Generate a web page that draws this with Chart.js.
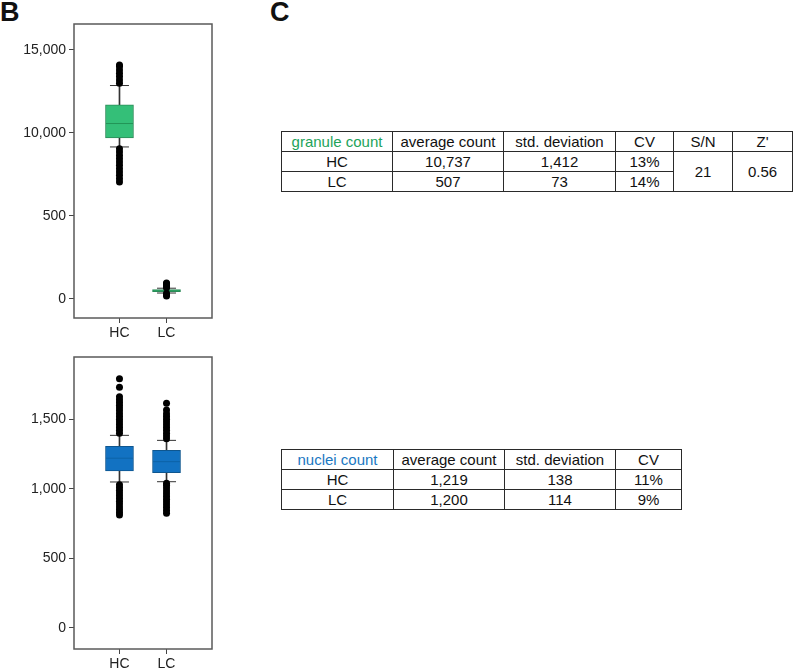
<!DOCTYPE html>
<html>
<head>
<meta charset="utf-8">
<script src="https://cdn.jsdelivr.net/npm/chart.js@4.4.1/dist/chart.umd.min.js"></script>
<style>
  html, body { margin:0; padding:0; background:#fff; }
  body { width:800px; height:672px; position:relative; overflow:hidden; font-family:"Liberation Sans", Arial, sans-serif; }
  .panel { position:absolute; font-weight:bold; font-size:27px; color:#111; line-height:1; }
  .cv { position:absolute; }
  table { position:absolute; border-collapse:collapse; table-layout:fixed; font-size:15px; color:#111; }
  td { border:1.5px solid #2a2a2a; text-align:center; padding:0; height:19px; line-height:19px; white-space:nowrap; }
</style>
</head>
<body>
<div class="panel" style="left:0;top:-1px;">B</div>
<div class="panel" style="left:270px;top:-1px;">C</div>
<div class="cv" style="left:0;top:0;width:230px;height:345px;"><canvas id="c1"></canvas></div>
<div class="cv" style="left:0;top:340px;width:230px;height:332px;"><canvas id="c2"></canvas></div>

<table id="t1" style="left:281px;top:131px;width:511px;">
  <colgroup><col style="width:111px"><col style="width:111px"><col style="width:112px"><col style="width:58px"><col style="width:59px"><col style="width:60px"></colgroup>
</table>
<table id="t2" style="left:281px;top:449px;width:400px;">
  <colgroup><col style="width:112px"><col style="width:111px"><col style="width:111px"><col style="width:66px"></colgroup>
</table>

<script>
// ---------- data ----------
const categories = ['HC', 'LC'];

// granule count (top box plot)
const granuleWhiskerLow  = [9160, 360];
const granuleQ1          = [9700, 440];
const granuleMedian      = [10570, 500];
const granuleQ3          = [11690, 560];
const granuleWhiskerHigh = [12860, 650];
const granuleOutliersHC  = [7050, 7250, 7450, 7650, 7850, 8050, 8250, 8450, 8650, 8850, 9050, 13000, 13200, 13400, 13600, 13800, 14000, 14100];
const granuleOutliersLC  = [180, 260, 330, 680, 760, 840, 920, 964];
const granuleTicks       = [0, 5000, 10000, 15000];
const granuleTickLabels  = ['0', '500', '10,000', '15,000'];

// nuclei count (bottom box plot)
const nucleiWhiskerLow  = [1049, 1051];
const nucleiQ1          = [1128, 1116];
const nucleiMedian      = [1220, 1195];
const nucleiQ3          = [1305, 1276];
const nucleiWhiskerHigh = [1384, 1348];
const nucleiOutliersHC  = [812, 830, 850, 870, 890, 910, 930, 950, 970, 990, 1010, 1030,
                           1400, 1420, 1440, 1460, 1480, 1500, 1520, 1540, 1560, 1580, 1600, 1620, 1640, 1662, 1729, 1791];
const nucleiOutliersLC  = [824, 845, 865, 885, 905, 925, 945, 965, 985, 1005, 1025, 1040,
                           1360, 1380, 1400, 1420, 1440, 1460, 1480, 1500, 1520, 1540, 1566, 1614];
const nucleiTicks       = [0, 500, 1000, 1500];
const nucleiTickLabels  = ['0', '500', '1,000', '1,500'];

// tables
const granuleHeader = ['granule count', 'average count', 'std. deviation', 'CV', 'S/N', "Z'"];
const granuleAvg    = ['10,737', '507'];
const granuleSD     = ['1,412', '73'];
const granuleCV     = ['13%', '14%'];
const granuleSN     = '21';
const granuleZ      = '0.56';
const nucleiHeader  = ['nuclei count', 'average count', 'std. deviation', 'CV'];
const nucleiAvg     = ['1,219', '1,200'];
const nucleiSD      = ['138', '114'];
const nucleiCV      = ['11%', '9%'];

// ---------- tables ----------
function cell(tr, text, opts) {
  const td = document.createElement('td');
  td.textContent = text;
  if (opts && opts.color) td.style.color = opts.color;
  if (opts && opts.rowSpan) td.rowSpan = opts.rowSpan;
  tr.appendChild(td);
}
(function(){
  const t1 = document.getElementById('t1');
  let tr = document.createElement('tr');
  granuleHeader.forEach((h, i) => cell(tr, h, i === 0 ? {color:'#22a35a'} : null));
  t1.appendChild(tr);
  categories.forEach((c, i) => {
    tr = document.createElement('tr');
    cell(tr, c); cell(tr, granuleAvg[i]); cell(tr, granuleSD[i]); cell(tr, granuleCV[i]);
    if (i === 0) { cell(tr, granuleSN, {rowSpan:2}); cell(tr, granuleZ, {rowSpan:2}); }
    t1.appendChild(tr);
  });
  const t2 = document.getElementById('t2');
  tr = document.createElement('tr');
  nucleiHeader.forEach((h, i) => cell(tr, h, i === 0 ? {color:'#1a78c2'} : null));
  t2.appendChild(tr);
  categories.forEach((c, i) => {
    tr = document.createElement('tr');
    cell(tr, c); cell(tr, nucleiAvg[i]); cell(tr, nucleiSD[i]); cell(tr, nucleiCV[i]);
    t2.appendChild(tr);
  });
})();

// ---------- charts ----------
const framePlugin = {
  id: 'frame',
  afterDraw(chart) {
    const a = chart.chartArea, ctx = chart.ctx;
    ctx.save();
    ctx.strokeStyle = '#5a5a5a';
    ctx.lineWidth = 1.5;
    ctx.strokeRect(a.left, a.top, a.right - a.left, a.bottom - a.top);
    ctx.restore();
  }
};

function boxChart(id, cfg) {
  const xs = categories.map((c, i) => i + 1);
  const pts = arr => arr.map((v, i) => ({x: xs[i], y: v}));
  const outl = [];
  cfg.outliers.forEach((list, i) => list.forEach(v => outl.push({x: xs[i], y: v})));
  return new Chart(document.getElementById(id), {
    type: 'bar',
    data: {
      datasets: [
        { type:'bar', data: xs.map((x, i) => ({x, y:[cfg.wLo[i], cfg.wHi[i]]})),
          backgroundColor:'#333', barThickness:1, grouped:false, order:5 },
        { type:'bar', data: xs.map((x, i) => ({x, y:[cfg.q1[i], cfg.q3[i]]})),
          backgroundColor: cfg.fill, borderColor: cfg.edge, borderWidth: 1, borderSkipped:false,
          barThickness: 28, grouped:false, order:4 },
        { type:'scatter', data: pts(cfg.median), pointStyle:'line', radius:13.5, borderWidth:1,
          borderColor: cfg.medianColor, order:3 },
        { type:'scatter', data: pts(cfg.wLo).concat(pts(cfg.wHi)), pointStyle:'line', radius:9.5, borderWidth:1,
          borderColor:'#333', order:2 },
        { type:'scatter', data: outl, pointStyle:'circle', radius:3.5, borderWidth:0,
          backgroundColor:'#000', order:1 }
      ]
    },
    options: {
      responsive: true, maintainAspectRatio: false, animation: false,
      layout: { padding: { top: cfg.padTop, left: 0, right: 18, bottom: 0 } },
      plugins: { legend: { display:false }, tooltip: { enabled:false } },
      scales: {
        x: {
          type:'linear', min: 0.033, max: 2.967, offset:false,
          afterBuildTicks: s => { s.ticks = xs.map(v => ({value:v})); },
          afterFit: s => { s.height = cfg.xHeight; },
          ticks: { callback: v => categories[v - 1] || '', color:'#222', padding:2, autoSkip:false, maxRotation:0,
                   font:{ family:'"Liberation Sans", Arial, sans-serif', size:14 } },
          grid: { offset:false, drawOnChartArea:false, tickLength:5, tickColor:'#444', tickWidth:1 },
          border: { display:false }
        },
        y: {
          type:'linear', min: cfg.yMin, max: cfg.yMax,
          afterBuildTicks: s => { s.ticks = cfg.ticks.map(v => ({value:v})); },
          afterFit: s => { s.width = 74; },
          ticks: { callback: v => cfg.tickLabels[cfg.ticks.indexOf(v)], color:'#222', padding:3,
                   font:{ family:'"Liberation Sans", Arial, sans-serif', size:14 } },
          grid: { drawOnChartArea:false, tickLength:5, tickColor:'#444', tickWidth:1 },
          border: { display:false }
        }
      }
    },
    plugins: [framePlugin]
  });
}

boxChart('c1', {
  wLo: granuleWhiskerLow, q1: granuleQ1, median: granuleMedian, q3: granuleQ3, wHi: granuleWhiskerHigh,
  outliers: [granuleOutliersHC, granuleOutliersLC],
  ticks: granuleTicks, tickLabels: granuleTickLabels,
  yMin: -1145, yMax: 16566, padTop: 24, xHeight: 27,
  fill:'#34bf78', edge:'#2c8a58', medianColor:'#239456'
});
boxChart('c2', {
  wLo: nucleiWhiskerLow, q1: nucleiQ1, median: nucleiMedian, q3: nucleiQ3, wHi: nucleiWhiskerHigh,
  outliers: [nucleiOutliersHC, nucleiOutliersLC],
  ticks: nucleiTicks, tickLabels: nucleiTickLabels,
  yMin: -151, yMax: 1947, padTop: 17, xHeight: 23,
  fill:'#1272c2', edge:'#0e568f', medianColor:'#0d62a6'
});
</script>
</body>
</html>
